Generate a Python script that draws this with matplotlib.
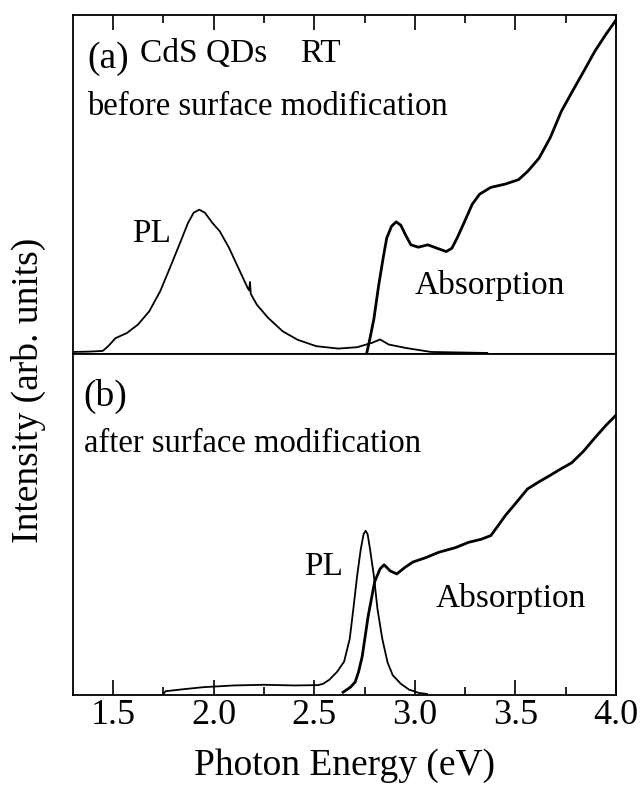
import matplotlib.pyplot as plt

plt.rcParams['font.family'] = ['Liberation Serif', 'DejaVu Serif']

# panel (a): before surface modification
pl_a_energy = [1.30, 1.38, 1.448, 1.475, 1.512, 1.568, 1.623, 1.679, 1.734, 1.789, 1.836, 1.872, 1.90, 1.928, 1.956, 1.993, 2.03, 2.076, 2.122, 2.168, 2.176, 2.18, 2.184, 2.214, 2.27, 2.343, 2.417, 2.51, 2.62, 2.713, 2.787, 2.827, 2.87, 2.953, 3.08, 3.36]
pl_a_value = [0.003, 0.004, 0.006, 0.02, 0.044, 0.059, 0.084, 0.123, 0.183, 0.262, 0.331, 0.385, 0.415, 0.424, 0.415, 0.385, 0.36, 0.311, 0.252, 0.193, 0.185, 0.21, 0.175, 0.143, 0.104, 0.064, 0.039, 0.02, 0.013, 0.017, 0.03, 0.04, 0.025, 0.015, 0.003, 0.0]

abs_a_energy = [2.759, 2.777, 2.796, 2.82, 2.842, 2.86, 2.884, 2.907, 2.93, 2.953, 2.98, 3.017, 3.064, 3.11, 3.156, 3.184, 3.21, 3.248, 3.285, 3.322, 3.378, 3.451, 3.516, 3.562, 3.618, 3.673, 3.729, 3.784, 3.84, 3.895, 3.95, 3.996]
abs_a_value = [-0.005, 0.044, 0.10, 0.20, 0.28, 0.34, 0.375, 0.388, 0.378, 0.35, 0.32, 0.313, 0.32, 0.31, 0.30, 0.31, 0.34, 0.39, 0.44, 0.47, 0.49, 0.50, 0.513, 0.538, 0.577, 0.637, 0.716, 0.775, 0.834, 0.893, 0.943, 0.982]

# panel (b): after surface modification
pl_b_energy = [1.75, 1.76, 1.85, 1.95, 2.10, 2.25, 2.40, 2.52, 2.544, 2.575, 2.613, 2.648, 2.676, 2.694, 2.713, 2.731, 2.745, 2.755, 2.765, 2.777, 2.796, 2.814, 2.838, 2.864, 2.89, 2.93, 2.97, 3.02, 3.06]
pl_b_value = [0.0, 0.008, 0.014, 0.02, 0.025, 0.027, 0.025, 0.026, 0.03, 0.042, 0.065, 0.095, 0.162, 0.25, 0.348, 0.426, 0.47, 0.48, 0.47, 0.426, 0.348, 0.25, 0.162, 0.093, 0.055, 0.03, 0.013, 0.003, 0.0]

abs_b_energy = [2.643, 2.68, 2.703, 2.72, 2.738, 2.768, 2.80, 2.827, 2.847, 2.877, 2.91, 2.95, 2.99, 3.05, 3.12, 3.20, 3.267, 3.33, 3.378, 3.42, 3.45, 3.50, 3.56, 3.62, 3.67, 3.72, 3.78, 3.84, 3.89, 3.95, 4.00]
abs_b_value = [0.005, 0.02, 0.035, 0.065, 0.11, 0.23, 0.33, 0.368, 0.38, 0.362, 0.353, 0.372, 0.388, 0.40, 0.417, 0.43, 0.446, 0.455, 0.466, 0.50, 0.525, 0.56, 0.603, 0.625, 0.642, 0.66, 0.68, 0.715, 0.75, 0.79, 0.82]

tick_values = [1.5, 2.0, 2.5, 3.0, 3.5, 4.0]
tick_labels = ['1.5', '2.0', '2.5', '3.0', '3.5', '4.0']
minor_values = [1.75, 2.25, 2.75, 3.25, 3.75]

fig = plt.figure(figsize=(6.43, 7.91), dpi=100)
ax_a = fig.add_axes([0.1135, 0.5525, 0.8445, 0.4285])
ax_b = fig.add_axes([0.1135, 0.1214, 0.8445, 0.4311])

ax_a.plot(pl_a_energy, pl_a_value, color='black', linewidth=1.3)
ax_a.plot(abs_a_energy, abs_a_value, color='black', linewidth=2.0)
ax_b.plot(pl_b_energy, pl_b_value, color='black', linewidth=1.3)
ax_b.plot(abs_b_energy, abs_b_value, color='black', linewidth=2.0)

for ax in (ax_a, ax_b):
    ax.set_xlim(1.3, 4.0)
    ax.set_ylim(-0.003, 1.0)
    ax.set_yticks([])
    ax.set_xticks(tick_values)
    ax.set_xticks(minor_values, minor=True)
    for side in ax.spines.values():
        side.set_linewidth(1.3)

# top panel: ticks only along the top edge
ax_a.tick_params(axis='x', which='both', direction='in', top=True, bottom=False, labelbottom=False)
ax_a.tick_params(axis='x', which='major', length=11, width=1.2)
ax_a.tick_params(axis='x', which='minor', length=6, width=1.2)

# bottom panel: ticks only along the bottom edge
ax_b.tick_params(axis='x', which='both', direction='in', top=False, bottom=True)
ax_b.tick_params(axis='x', which='major', length=11, width=1.2, labelsize=26, pad=3)
ax_b.tick_params(axis='x', which='minor', length=6, width=1.2)
ax_b.set_xticklabels(tick_labels)

ax_b.set_xlabel('Photon Energy (eV)', fontsize=27, labelpad=12)
fig.text(0.044, 0.507, 'Intensity (arb. units)', rotation=90, fontsize=27, ha='center', va='center')

# panel annotations
ax_a.text(0.026, 0.844, '(a)', transform=ax_a.transAxes, fontsize=27, va='baseline')
ax_a.text(0.123, 0.861, 'CdS QDs', transform=ax_a.transAxes, fontsize=24, va='baseline')
ax_a.text(0.418, 0.861, 'RT', transform=ax_a.transAxes, fontsize=24, va='baseline')
ax_a.text(0.026, 0.705, 'before surface modification', transform=ax_a.transAxes, fontsize=23.5, va='baseline')
ax_a.text(0.109, 0.33, 'PL', transform=ax_a.transAxes, fontsize=24, va='baseline')
ax_a.text(0.63, 0.177, 'Absorption', transform=ax_a.transAxes, fontsize=24, va='baseline')

ax_b.text(0.02, 0.847, '(b)', transform=ax_b.transAxes, fontsize=27, va='baseline')
ax_b.text(0.02, 0.712, 'after surface modification', transform=ax_b.transAxes, fontsize=23.5, va='baseline')
ax_b.text(0.425, 0.353, 'PL', transform=ax_b.transAxes, fontsize=24, va='baseline')
ax_b.text(0.668, 0.259, 'Absorption', transform=ax_b.transAxes, fontsize=24, va='baseline')

plt.savefig('out.png', dpi=100)
